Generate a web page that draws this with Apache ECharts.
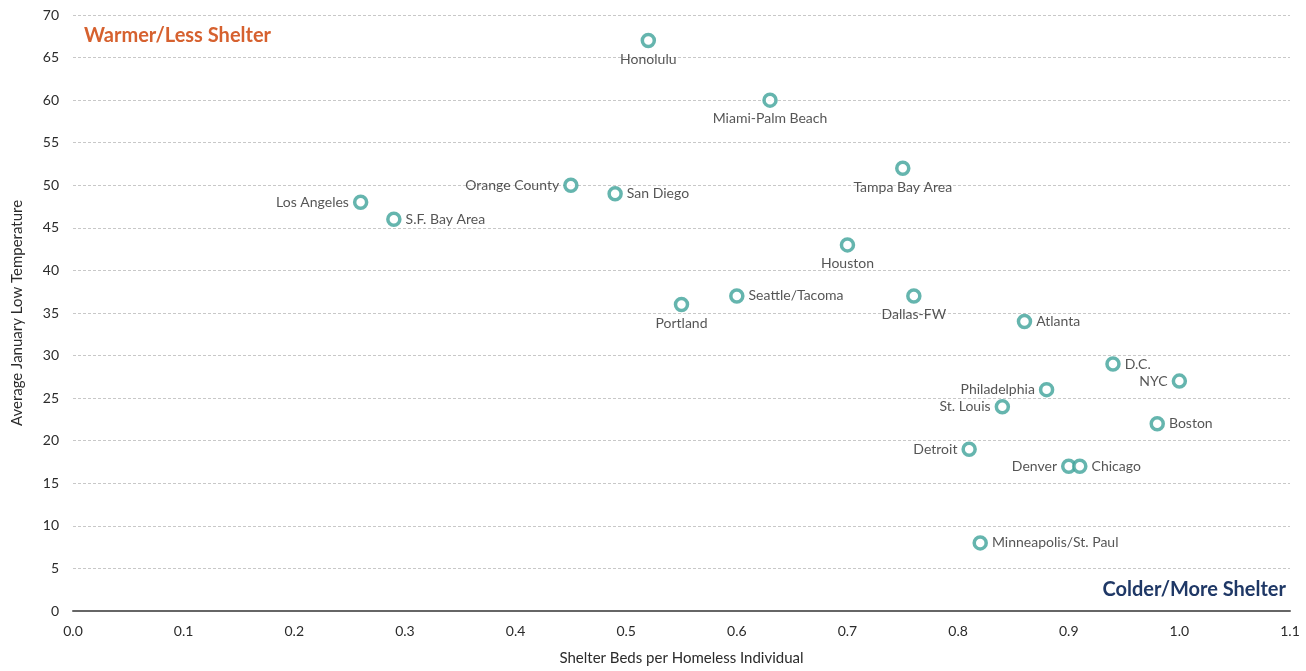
<!DOCTYPE html>
<html>
<head>
<meta charset="utf-8">
<script src="https://cdn.jsdelivr.net/npm/echarts@6/dist/echarts.min.js"></script>
<style>
html,body{margin:0;padding:0;background:#fff;}
#chart{width:1306px;height:671px;}
</style>
</head>
<body>
<div id="chart"></div>
<script>
const cities = ["Honolulu","Miami-Palm Beach","Tampa Bay Area","Orange County","San Diego","Los Angeles","S.F. Bay Area","Houston","Portland","Seattle/Tacoma","Dallas-FW","Atlanta","D.C.","NYC","Philadelphia","St. Louis","Boston","Detroit","Denver","Chicago","Minneapolis/St. Paul"];
const shelterBeds = [0.52,0.63,0.75,0.45,0.49,0.26,0.29,0.70,0.55,0.60,0.76,0.86,0.94,1.00,0.88,0.84,0.98,0.81,0.90,0.91,0.82];
const janLowTemp = [67,60,52,50,49,48,46,43,36,37,37,34,29,27,26,24,22,19,17,17,8];
const labelSides = ["bottom","bottom","bottom","left","right","left","right","bottom","bottom","right","bottom","right","right","left","left","left","right","left","left","right","right"];

const font = "'Lato', 'Open Sans', sans-serif";
const data = cities.map((c, i) => ({
  name: c,
  value: [shelterBeds[i], janLowTemp[i]],
  label: { position: labelSides[i] }
}));

const chart = echarts.init(document.getElementById('chart'));
chart.setOption({
  animation: false,
  grid: { left: 73, right: 16, top: 15, bottom: 59 },
  xAxis: {
    type: 'value', min: 0, max: 1.1, interval: 0.1,
    name: 'Shelter Beds per Homeless Individual',
    nameLocation: 'middle', nameGap: 40,
    nameTextStyle: { fontFamily: font, fontSize: 15, color: '#2b2b2b' },
    axisLine: { show: true, lineStyle: { color: '#666', width: 2 } },
    axisTick: { show: false },
    splitLine: { show: false },
    axisLabel: { fontFamily: font, fontSize: 14, color: '#2b2b2b', margin: 13,
      formatter: v => v.toFixed(1) }
  },
  yAxis: {
    type: 'value', min: 0, max: 70, interval: 5,
    name: 'Average January Low Temperature',
    nameLocation: 'middle', nameGap: 48,
    nameTextStyle: { fontFamily: font, fontSize: 15, color: '#2b2b2b' },
    axisLine: { show: false },
    axisTick: { show: false },
    axisLabel: { fontFamily: font, fontSize: 14, color: '#2b2b2b', margin: 14 },
    splitLine: { show: true, lineStyle: { color: '#c8c8c8', type: [3, 2], width: 1 } }
  },
  series: [{
    type: 'scatter',
    data: data,
    symbol: 'circle',
    symbolSize: 12,
    itemStyle: { color: '#fff', borderColor: '#3fa39a', borderWidth: 3.5 },
    label: {
      show: true, formatter: p => p.name,
      fontFamily: font, fontSize: 14, color: '#2b2b2b', distance: 4
    },
    emphasis: { disabled: true }
  }],
  graphic: [
    { type: 'text', left: 84, top: 26,
      style: { text: 'Warmer/Less Shelter', fontFamily: font, fontSize: 20, fontWeight: 'bold', fill: '#d6612f' } },
    { type: 'text', right: 20, top: 580,
      style: { text: 'Colder/More Shelter', fontFamily: font, fontSize: 20, fontWeight: 'bold', fill: '#1f3866' } }
  ]
});
</script>
</body>
</html>
